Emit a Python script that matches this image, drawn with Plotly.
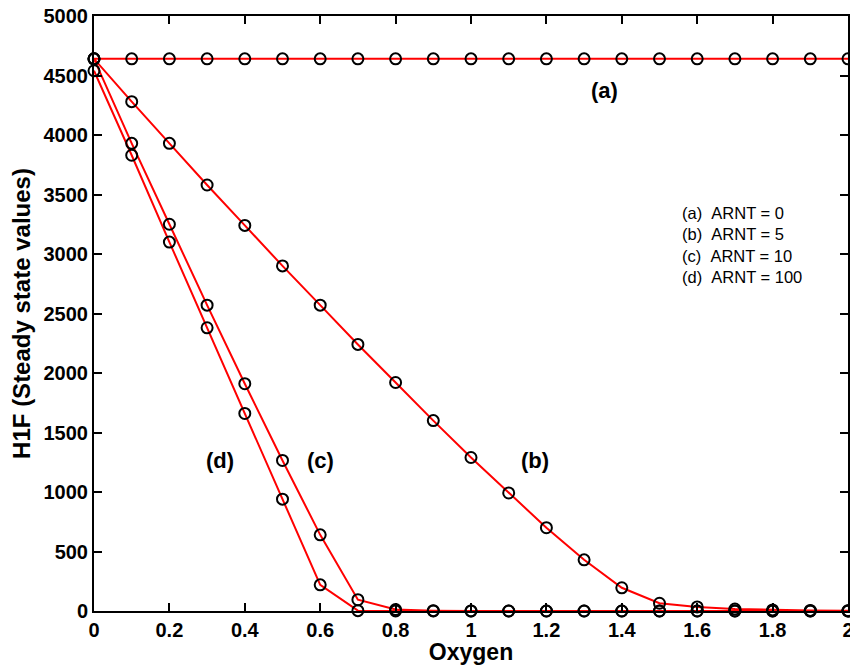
import plotly.graph_objects as go

oxygen = [0.0, 0.1, 0.2, 0.3, 0.4, 0.5, 0.6, 0.7, 0.8, 0.9, 1.0,
          1.1, 1.2, 1.3, 1.4, 1.5, 1.6, 1.7, 1.8, 1.9, 2.0]

h1f_a = [4640] * 21
h1f_b = [4640, 4280, 3930, 3580, 3240, 2900, 2570, 2240, 1920, 1600, 1290,
         992, 700, 430, 195, 65, 34, 17, 9, 5, 3]
h1f_c = [4640, 3930, 3250, 2570, 1910, 1265, 640, 95, 12, 3, 1,
         0, 0, 0, 0, 0, 0, 0, 0, 0, 0]
h1f_d = [4540, 3830, 3100, 2380, 1660, 940, 220, 3, 1, 0, 0,
         0, 0, 0, 0, 0, 0, 0, 0, 0, 0]

x_ticks = [0, 0.2, 0.4, 0.6, 0.8, 1.0, 1.2, 1.4, 1.6, 1.8, 2.0]
x_labels = ["0", "0.2", "0.4", "0.6", "0.8", "1", "1.2", "1.4", "1.6", "1.8", "2"]
y_ticks = [0, 500, 1000, 1500, 2000, 2500, 3000, 3500, 4000, 4500, 5000]
y_labels = [str(v) for v in y_ticks]

legend_lines = ["(a)\u00a0\u00a0ARNT = 0", "(b)\u00a0\u00a0ARNT = 5",
                "(c)\u00a0\u00a0ARNT = 10", "(d)\u00a0\u00a0ARNT = 100"]

curve_labels = ["(a)", "(b)", "(c)", "(d)"]
label_x = [1.353, 1.17, 0.60, 0.335]
label_y = [4378, 1265, 1265, 1265]

FONT = "Liberation Sans, Arial, Helvetica, sans-serif"

fig = go.Figure()
for ys in [h1f_a, h1f_b, h1f_c, h1f_d]:
    fig.add_trace(go.Scatter(
        x=oxygen, y=ys, mode="lines",
        line=dict(color="#ff0000", width=2),
        showlegend=False, cliponaxis=False))
for ys in [h1f_a, h1f_b, h1f_c, h1f_d]:
    fig.add_trace(go.Scatter(
        x=oxygen, y=ys, mode="markers",
        marker=dict(symbol="circle-open", size=11, color="black",
                    line=dict(width=2, color="black")),
        showlegend=False, cliponaxis=False))

for t, xx, yy in zip(curve_labels, label_x, label_y):
    fig.add_annotation(x=xx, y=yy, text="<b>%s</b>" % t, showarrow=False,
                       font=dict(family=FONT, size=22, color="black"),
                       xanchor="center", yanchor="middle")

fig.add_annotation(x=1.554, y=3076, text="<br>".join(legend_lines),
                   showarrow=False, align="left", xanchor="left", yanchor="middle",
                   font=dict(family=FONT, size=16.5, color="black"))

axis_common = dict(showline=True, linecolor="black", linewidth=2, mirror="ticks",
                   ticks="inside", ticklen=8, tickwidth=2, tickcolor="black",
                   showgrid=False, zeroline=False, ticklabeloverflow="allow",
                   tickfont=dict(family=FONT, size=20, color="black"))

fig.update_xaxes(range=[0, 2], tickvals=x_ticks,
                 ticktext=["<b>%s</b>" % s for s in x_labels],
                 title=dict(text="<b>Oxygen</b>", font=dict(family=FONT, size=23, color="black"),
                            standoff=2),
                 **axis_common)
fig.update_yaxes(range=[0, 5000], tickvals=y_ticks,
                 ticktext=["<b>%s</b>" % s for s in y_labels],
                 title=dict(text="<b>H1F (Steady state values)</b>",
                            font=dict(family=FONT, size=24, color="black"),
                            standoff=6),
                 **axis_common)

fig.update_layout(width=850, height=665,
                  margin=dict(l=94, r=2, t=16, b=54, autoexpand=False),
                  plot_bgcolor="white", paper_bgcolor="white",
                  font=dict(family=FONT, color="black"))

fig.write_html("out.html")
